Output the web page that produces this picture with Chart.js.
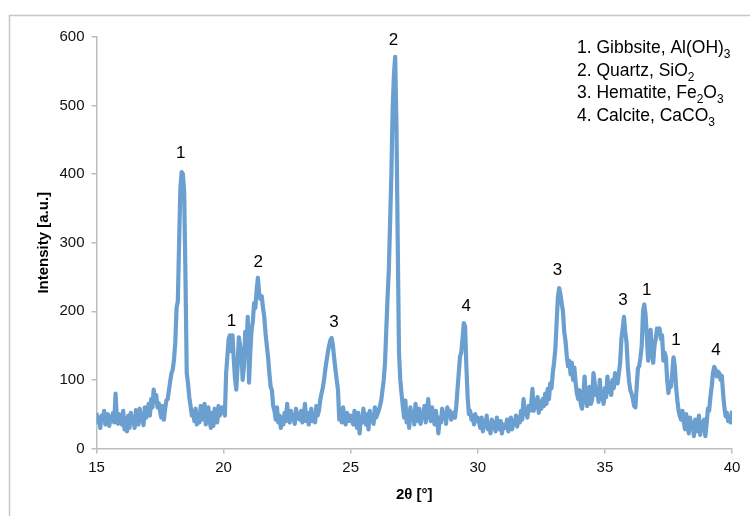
<!DOCTYPE html>
<html>
<head>
<meta charset="utf-8">
<script src="https://cdn.jsdelivr.net/npm/chart.js@4.4.1/dist/chart.umd.min.js"></script>
<style>
  html, body { margin: 0; padding: 0; background: #fff; overflow: hidden; }
  #wrap { width: 750px; height: 516px; position: relative; }
</style>
</head>
<body>
<div id="wrap"><canvas id="c"></canvas></div>
<script>
// ---- data ----
const twoThetaStart = 15;
const twoThetaStep = 0.05;
const intensity = [
  52, 38, 45, 30, 48, 42, 55, 35, 44, 50, 33, 46, 40, 52, 38, 80, 45, 36, 50, 42,
  35, 55, 28, 44, 25, 48, 30, 52, 38, 45, 30, 56, 42, 35, 58, 40, 50, 34, 60, 45,
  52, 65, 48, 72, 60, 86, 68, 78, 60, 66, 55, 45, 62, 42, 58, 70, 72, 85, 98, 110,
  115, 130, 155, 205, 215, 300, 380, 403, 400, 372, 250, 110, 95, 75, 62, 48, 55, 40, 58, 35,
  50, 38, 62, 42, 55, 65, 35, 48, 60, 40, 30, 52, 33, 58, 45, 38, 62, 48, 55, 60,
  55, 48, 110, 135, 160, 165, 142, 165, 130, 102, 86, 120, 162, 150, 140, 100, 120, 170, 145, 192,
  96, 140, 173, 185, 212, 205, 231, 249, 226, 218, 222, 205, 192, 168, 150, 133, 110, 90, 85, 62,
  55, 42, 60, 38, 48, 30, 45, 35, 52, 40, 65, 45, 38, 55, 42, 48, 36, 58, 44, 50,
  42, 55, 38, 48, 65, 40, 52, 35, 45, 58, 40, 50, 38, 62, 48, 55, 70, 80, 88, 100,
  115, 128, 140, 150, 158, 161, 150, 132, 115, 100, 86, 42, 55, 38, 60, 45, 35, 52, 48, 40,
  48, 42, 35, 55, 40, 30, 52, 22, 45, 38, 58, 42, 35, 50, 28, 55, 40, 48, 36, 60,
  45, 50, 55, 62, 70, 85, 100, 125, 173, 220, 260, 330, 400, 494, 545, 571, 470, 300, 140, 100,
  80, 62, 45, 70, 38, 55, 30, 60, 42, 50, 35, 65, 48, 40, 58, 36, 52, 45, 62, 38,
  55, 72, 50, 40, 60, 48, 35, 55, 42, 22, 45, 38, 58, 44, 52, 36, 60, 48, 55, 42,
  50, 52, 45, 60, 85, 110, 134, 140, 160, 183, 178, 120, 75, 50, 55, 42, 48, 35, 50, 40,
  45, 38, 30, 45, 25, 40, 32, 48, 28, 35, 22, 42, 30, 38, 25, 45, 33, 28, 40, 22,
  35, 30, 30, 42, 25, 38, 45, 28, 40, 35, 48, 32, 45, 38, 55, 42, 72, 50, 58, 45,
  62, 55, 65, 87, 55, 70, 60, 75, 52, 68, 58, 72, 62, 80, 65, 87, 72, 95, 88, 110,
  125, 145, 183, 220, 234, 225, 212, 200, 170, 157, 135, 120, 128, 108, 125, 100, 118, 95, 80, 72,
  85, 65, 58, 75, 105, 80, 62, 70, 90, 65, 72, 110, 95, 78, 85, 68, 100, 72, 80, 65,
  88, 75, 105, 82, 95, 78, 100, 88, 110, 102, 95, 110, 125, 160, 175, 192, 170, 155, 120, 98,
  85, 80, 72, 62, 60, 90, 117, 120, 133, 150, 200, 210, 195, 163, 128, 150, 173, 140, 125, 150,
  160, 175, 170, 175, 160, 165, 128, 140, 133, 100, 81, 95, 90, 110, 133, 120, 90, 70, 55, 47,
  42, 55, 40, 28, 50, 35, 22, 45, 30, 38, 18, 42, 25, 35, 48, 20, 38, 28, 42, 18,
  35, 58, 55, 75, 90, 110, 119, 115, 105, 112, 110, 100, 106, 80, 60, 47, 52, 40, 45, 38,
  55
];

const xTickValues = [15, 20, 25, 30, 35, 40];
const yTickValues = [0, 100, 200, 300, 400, 500, 600];

// peak annotations (label, 2θ, intensity of label centre)
const peakLabels = ['1', '1', '2', '3', '2', '4', '3', '3', '1', '1', '4'];
const peakTheta  = [18.31, 20.31, 21.36, 24.34, 26.68, 29.54, 33.13, 35.71, 36.65, 37.80, 39.37];
const peakLabelY = [430, 185, 272, 184, 595, 207, 260, 216, 231, 158, 143];

// phase key (main text, subscript pieces)
const phaseKey = [
  [['1. Gibbsite, Al(OH)', false], ['3', true]],
  [['2. Quartz, SiO', false], ['2', true]],
  [['3. Hematite, Fe', false], ['2', true], ['O', false], ['3', true]],
  [['4. Calcite, CaCO', false], ['3', true]]
];

const xTitle = '2θ [°]';
const yTitle = 'Intensity [a.u.]';

// ---- build ----
const points = intensity.map((v, i) => ({ x: twoThetaStart + i * twoThetaStep, y: v }));
const FONT = '"Liberation Sans", Arial, Helvetica, sans-serif';
const AXIS = '#bdbdbd';

const framePlugin = {
  id: 'frame',
  beforeDraw(chart) {
    const c = chart.ctx;
    c.save();
    c.fillStyle = '#fff';
    c.fillRect(0, 0, chart.width, chart.height);
    c.strokeStyle = '#c6c6c6';
    c.lineWidth = 1.5;
    c.beginPath();
    c.moveTo(9.5, chart.height);
    c.lineTo(9.5, 15.5);
    c.lineTo(chart.width, 15.5);
    c.stroke();
    c.restore();
  }
};

const peakPlugin = {
  id: 'peaks',
  afterDatasetsDraw(chart) {
    const c = chart.ctx, xs = chart.scales.x, ys = chart.scales.y;
    c.save();
    c.fillStyle = '#000';
    c.font = '17px ' + FONT;
    c.textAlign = 'center';
    c.textBaseline = 'middle';
    peakLabels.forEach((t, i) => {
      c.fillText(t, xs.getPixelForValue(peakTheta[i]), ys.getPixelForValue(peakLabelY[i]));
    });
    c.restore();
  }
};

const keyPlugin = {
  id: 'phaseKey',
  afterDraw(chart) {
    const c = chart.ctx;
    c.save();
    c.fillStyle = '#000';
    c.textBaseline = 'alphabetic';
    c.textAlign = 'left';
    phaseKey.forEach((entry, i) => {
      let x = 577;
      const base = 53 + i * 22.6;
      entry.forEach(([t, sub]) => {
        c.font = (sub ? '12px ' : '17.5px ') + FONT;
        c.fillText(t, x, sub ? base + 5 : base);
        x += c.measureText(t).width;
      });
    });
    c.restore();
  }
};

new Chart(document.getElementById('c'), {
  type: 'line',
  data: {
    datasets: [{
      data: points,
      borderColor: '#6a9fd0',
      borderWidth: 4.2,
      pointRadius: 0,
      tension: 0,
      borderJoinStyle: 'round',
      fill: false
    }]
  },
  options: {
    responsive: true,
    maintainAspectRatio: false,
    animation: false,
    devicePixelRatio: 1,
    layout: { padding: { top: 37, right: 18, left: 0, bottom: 0 } },
    plugins: { legend: { display: false }, tooltip: { enabled: false } },
    scales: {
      x: {
        type: 'linear',
        min: xTickValues[0],
        max: xTickValues[xTickValues.length - 1],
        afterBuildTicks(s) { s.ticks = xTickValues.map(v => ({ value: v })); },
        ticks: { padding: 5, color: '#111', font: { size: 15, family: FONT } },
        grid: { drawOnChartArea: false, drawTicks: true, tickLength: 5, color: AXIS, lineWidth: 1.5 },
        border: { display: true, color: AXIS, width: 1.5 },
        title: { display: true, text: xTitle, color: '#000', font: { size: 15, weight: 'bold', family: FONT }, padding: { top: 0, bottom: 12 } },
        afterFit(s) { s.height = 67.5; }
      },
      y: {
        min: yTickValues[0],
        max: yTickValues[yTickValues.length - 1],
        afterBuildTicks(s) { s.ticks = yTickValues.map(v => ({ value: v })); },
        ticks: { padding: 7, color: '#111', font: { size: 15, family: FONT } },
        grid: { drawOnChartArea: false, drawTicks: true, tickLength: 5, color: AXIS, lineWidth: 1.5 },
        border: { display: true, color: AXIS, width: 1.5 },
        title: { display: true, text: yTitle, color: '#000', font: { size: 15, weight: 'bold', family: FONT }, padding: { top: 35, bottom: 0 } },
        afterFit(s) { s.width = 96.5; }
      }
    }
  },
  plugins: [framePlugin, peakPlugin, keyPlugin]
});
</script>
</body>
</html>
